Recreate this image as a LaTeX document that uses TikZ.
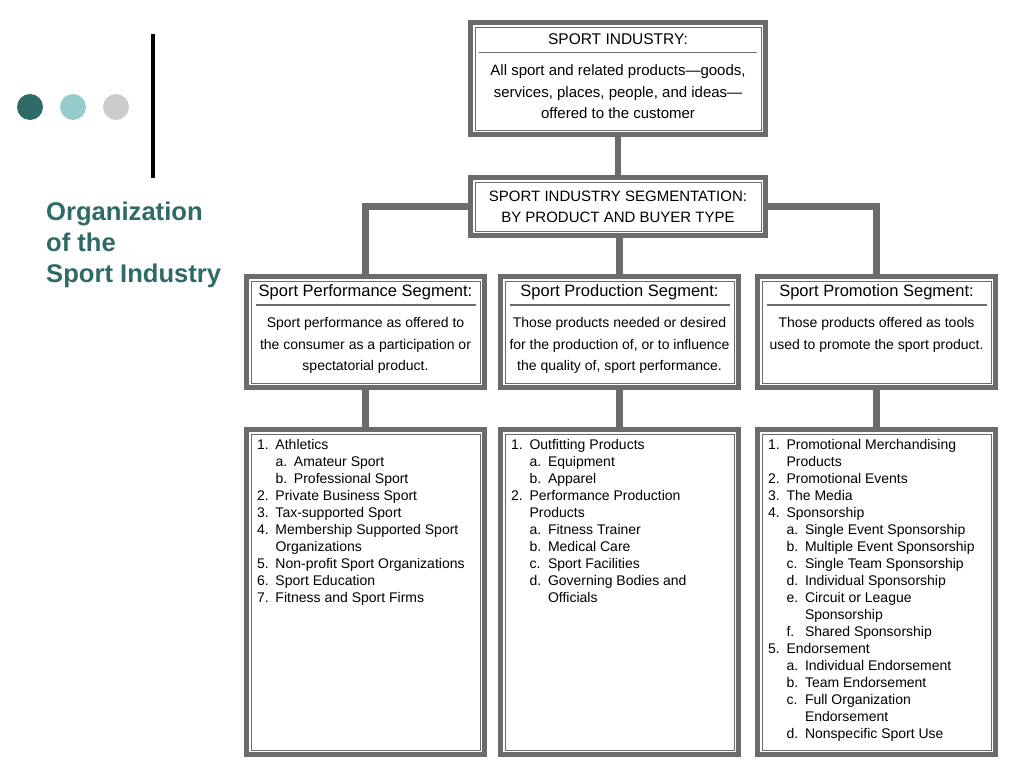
\documentclass[tikz,border=0pt]{standalone}
\usepackage{fontspec}
\setmainfont{Liberation Sans}
\definecolor{framegray}{HTML}{6B6B6B}
\definecolor{darkteal}{HTML}{2F6B66}
\definecolor{lightteal}{HTML}{96CCCC}
\definecolor{dotgray}{HTML}{CCCCCC}
% box text: height, width, top pad, head, body
\newcommand{\boxtext}[5]{\parbox[c][#1][t]{#2}{\vspace*{#3}\centering
  {#4\vrule depth 3.5pt width 0pt\par}\vspace{3.8pt}
  {\color{framegray}\hrule height 1.6pt}\vspace{11.6pt}{#5\par}}}
\newcommand{\lvone}[2]{\par\noindent\hangindent=18.5pt\hangafter=1\makebox[18.5pt][l]{#1}#2}
\newcommand{\lvtwo}[2]{\par\noindent\hangindent=37pt\hangafter=1\hspace*{18.5pt}\makebox[18.5pt][l]{#1}#2}
\newcommand{\headfont}{\fontsize{16.5}{20}\selectfont}
\newcommand{\segfont}{\fontsize{14}{21.5}\selectfont}
\newcommand{\listfont}{\fontsize{14}{17}\selectfont\raggedright}

\begin{document}
\begin{tikzpicture}[x=1pt,y=-1pt,
  boxframe/.style={draw=framegray, line width=5pt, fill=white, inner sep=0pt, outer sep=0pt},
  segbox/.style={boxframe, minimum width=238pt, minimum height=111pt},
  listbox/.style={boxframe, minimum width=238pt, minimum height=325pt},
  link/.style={draw=framegray, line width=6.5pt},
  innerline/.style={draw=framegray, line width=0.9pt}]
\fill[white] (0,0) rectangle (1024,768);
\useasboundingbox (0,0) rectangle (1024,768);

% left side title
\fill[darkteal] (30,107) circle (13pt);
\fill[lightteal] (73,107) circle (13pt);
\fill[dotgray] (116,107) circle (13pt);
\draw[line width=3.5pt] (153,34) -- (153,178);
\node[anchor=north west, inner sep=0pt, align=left, text=darkteal,
  font=\fontsize{25.6}{31}\selectfont\bfseries] (heading) at (46,202)
  {Organization\\of the\\Sport Industry};

\node[boxframe, minimum width=295pt, minimum height=112pt] (industry) at (618,78.5)
  {\boxtext{112pt}{278pt}{11pt}{\fontsize{15.5}{18}\selectfont SPORT INDUSTRY:}
  {\fontsize{15}{21.5}\selectfont All sport and related products---goods,\\
  services, places, people, and ideas---\\ offered to the customer}};
\node[boxframe, minimum width=295pt, minimum height=58pt, align=center,
  font=\fontsize{15}{21}\selectfont] (segment) at (618,206.5)
  {SPORT INDUSTRY SEGMENTATION:\\BY PRODUCT AND BUYER TYPE};

\node[segbox] (perf) at (365.5,332)
  {\boxtext{111pt}{220pt}{8.5pt}{\headfont Sport Performance Segment:}
  {\segfont Sport performance as offered to\\ the consumer as a participation or\\ spectatorial product.}};
\node[segbox] (prod) at (619.5,332)
  {\boxtext{111pt}{220pt}{8.5pt}{\headfont Sport Production Segment:}
  {\segfont Those products needed or desired\\ for the production of, or to influence\\ the quality of, sport performance.}};
\node[segbox] (promo) at (876.5,332)
  {\boxtext{111pt}{220pt}{8.5pt}{\headfont Sport Promotion Segment:}
  {\segfont Those products offered as tools\\ used to promote the sport product.}};

\node[listbox] (perflist) at (365.5,592)
  {\parbox[c][325pt][t]{217pt}{\vspace*{10.3pt}\listfont
  \lvone{1.}{Athletics}
  \lvtwo{a.}{Amateur Sport}
  \lvtwo{b.}{Professional Sport}
  \lvone{2.}{Private Business Sport}
  \lvone{3.}{Tax-supported Sport}
  \lvone{4.}{Membership Supported Sport\newline Organizations}
  \lvone{5.}{Non-profit Sport Organizations}
  \lvone{6.}{Sport Education}
  \lvone{7.}{Fitness and Sport Firms}\par}};
\node[listbox] (prodlist) at (619.5,592)
  {\parbox[c][325pt][t]{217pt}{\vspace*{10.3pt}\listfont
  \lvone{1.}{Outfitting Products}
  \lvtwo{a.}{Equipment}
  \lvtwo{b.}{Apparel}
  \lvone{2.}{Performance Production\newline Products}
  \lvtwo{a.}{Fitness Trainer}
  \lvtwo{b.}{Medical Care}
  \lvtwo{c.}{Sport Facilities}
  \lvtwo{d.}{Governing Bodies and\newline Officials}\par}};
\node[listbox] (promolist) at (876.5,592)
  {\parbox[c][325pt][t]{217pt}{\vspace*{10.3pt}\listfont
  \lvone{1.}{Promotional Merchandising\newline Products}
  \lvone{2.}{Promotional Events}
  \lvone{3.}{The Media}
  \lvone{4.}{Sponsorship}
  \lvtwo{a.}{Single Event Sponsorship}
  \lvtwo{b.}{Multiple Event Sponsorship}
  \lvtwo{c.}{Single Team Sponsorship}
  \lvtwo{d.}{Individual Sponsorship}
  \lvtwo{e.}{Circuit or League\newline Sponsorship}
  \lvtwo{f.}{Shared Sponsorship}
  \lvone{5.}{Endorsement}
  \lvtwo{a.}{Individual Endorsement}
  \lvtwo{b.}{Team Endorsement}
  \lvtwo{c.}{Full Organization\newline Endorsement}
  \lvtwo{d.}{Nonspecific Sport Use}\par}};

\foreach \n in {industry,segment,perf,prod,promo,perflist,prodlist,promolist}
  \draw[innerline] ([shift={(4.5pt,4.5pt)}]\n.south west) rectangle ([shift={(-4.5pt,-4.5pt)}]\n.north east);

% connectors
\draw[link] (industry) -- (segment);
\draw[link] (segment.west) -| (perf.north);
\draw[link] (segment.east) -| (promo.north);
\draw[link] (segment.south -| prod.north) -- (prod.north);
\draw[link] (perf) -- (perflist);
\draw[link] (prod) -- (prodlist);
\draw[link] (promo) -- (promolist);
\end{tikzpicture}
\end{document}
